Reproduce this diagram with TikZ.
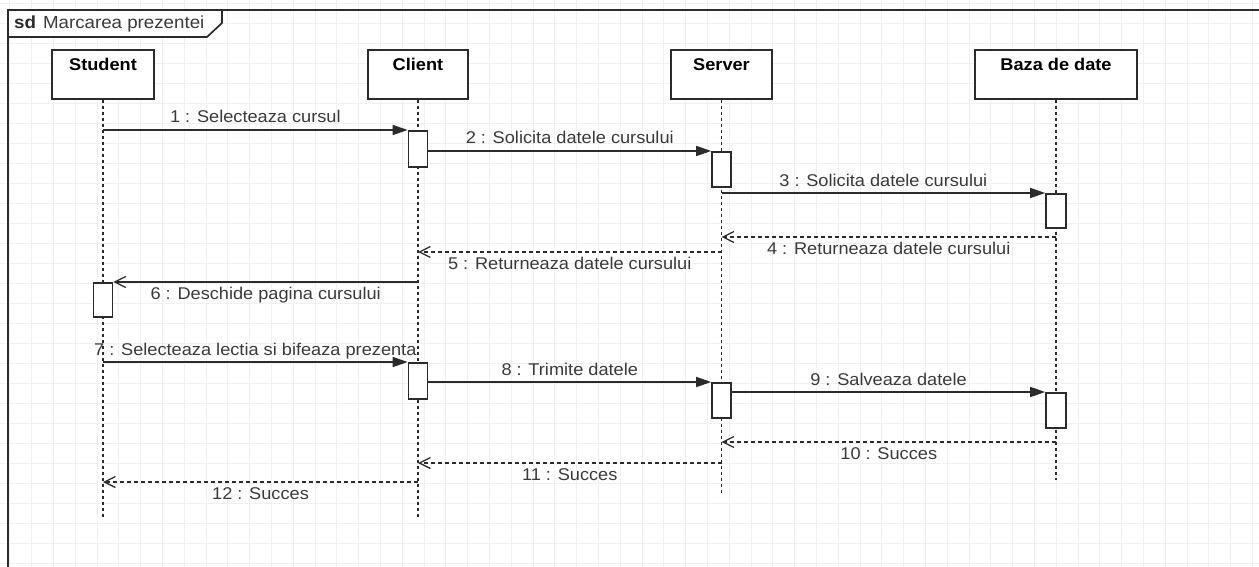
\documentclass[tikz,border=0pt]{standalone}
\usepackage{fontspec}
\setmainfont{Liberation Sans}[FakeStretch=1.07]
\usetikzlibrary{arrows.meta}
\definecolor{gridc}{HTML}{F0F0F0}
\definecolor{ink}{HTML}{2B2B2B}
\definecolor{txt}{HTML}{3A3A3A}
\tikzset{
  gridline/.style={draw=gridc, line width=0.9pt},
  frameline/.style={draw=ink, line width=1.7pt},
  actor/.style={draw=ink, line width=1.8pt, fill=white, minimum height=49pt, inner sep=0pt},
  actorname/.style={anchor=north, inner sep=0pt, font=\fontsize{17}{19}\selectfont\bfseries, text=black, yshift=-9pt},
  lifeline/.style={draw=ink, line width=1.6pt, dash pattern=on 3pt off 3pt},
  activation/.style={draw=ink, line width=1.6pt, fill=white, minimum width=19pt, inner sep=0pt, anchor=north},
  sync/.style={draw=ink, line width=1.4pt, -{Triangle[length=15pt,width=10pt]}},
  reply/.style={draw=ink, line width=1.4pt, dash pattern=on 4pt off 3pt, -{Straight Barb[length=11pt,width=11pt,line width=1.3pt]}},
  callopen/.style={draw=ink, line width=1.4pt, -{Straight Barb[length=11pt,width=11pt,line width=1.3pt]}},
  msgtext/.style={inner sep=0pt, anchor=base, text=txt, font=\fontsize{17}{19}\selectfont},
  above label/.style={msgtext, yshift=7pt},
  below label/.style={msgtext, yshift=-17pt}
}
\begin{document}
\begin{tikzpicture}[x=1pt,y=-1pt]
\clip (0,0) rectangle (1259,567);
\fill[white] (0,0) rectangle (1259,567);
% grid
\foreach \i in {0,...,57} \draw[gridline] ({9.9+\i*21.8},0) -- ({9.9+\i*21.8},567);
\foreach \j in {0,...,28} \draw[gridline] (0,{3+\j*20}) -- (1259,{3+\j*20});
% frame
\draw[frameline] (8,580) -- (8,10) -- (1270,10);
\draw[frameline, fill=white] (8,10) -- (222,10) -- (222,23) -- (207,37) -- (8,37) -- cycle;
\node[anchor=base west, inner sep=0pt, font=\fontsize{17.5}{19}\selectfont, text=ink] (title) at (14,29)
  {\textbf{sd}\hspace{7pt}{\color{txt}Marcarea prezentei}};
% actors
\node[actor, minimum width=102pt] (student) at (103,74.5) {};
\node[actor, minimum width=100pt] (client) at (418,74.5) {};
\node[actor, minimum width=101pt] (server) at (721.5,74.5) {};
\node[actor, minimum width=162pt] (db) at (1056,74.5) {};
\node[actorname] at (student.north) {Student};
\node[actorname] at (client.north) {Client};
\node[actorname] at (server.north) {Server};
\node[actorname] at (db.north) {Baza de date};
% lifeline ends
\coordinate (studentEnd) at (103,518);
\coordinate (clientEnd) at (418,518);
\coordinate (serverEnd) at (721.5,495);
\coordinate (dbEnd) at (1056,480);
\draw[lifeline] (student.south) -- (studentEnd);
\draw[lifeline] (client.south) -- (clientEnd);
\draw[lifeline] (server.south) -- (serverEnd);
\draw[lifeline] (db.south) -- (dbEnd);
% activations
\node[activation, minimum height=36pt] (c1) at (418,130) {};
\node[activation, minimum height=35pt] (s1) at (721.5,151) {};
\node[activation, minimum height=34pt, minimum width=20pt] (d1) at (1056,193) {};
\node[activation, minimum height=34pt] (st1) at (103,282) {};
\node[activation, minimum height=36pt] (c2) at (418,362) {};
\node[activation, minimum height=35pt] (s2) at (721.5,382) {};
\node[activation, minimum height=35pt, minimum width=20pt] (d2) at (1056,392) {};
% messages
\draw[sync] (student.south |- c1.north west) -- node[above label] {1 : Selecteaza cursul} (c1.north west);
\draw[sync] (c1.east |- s1.north west) -- node[above label] {2 : Solicita datele cursului} (s1.north west);
\draw[sync] (server.south |- d1.north west) -- node[above label] {3 : Solicita datele cursului} (d1.north west);
\coordinate (m4) at (1056,237);
\draw[reply] (m4) -- node[below label] {4 : Returneaza datele cursului} (server.south |- m4);
\coordinate (m5) at (721.5,252);
\draw[reply] (m5) -- node[below label] {5 : Returneaza datele cursului} (client.south |- m5);
\draw[callopen] (client.south |- st1.north east) -- node[below label] {6 : Deschide pagina cursului} (st1.north east);
\draw[sync] (student.south |- c2.north west) -- node[above label] {7 : Selecteaza lectia si bifeaza prezenta} (c2.north west);
\draw[sync] (c2.east |- s2.north west) -- node[above label] {8 : Trimite datele} (s2.north west);
\draw[sync] (s2.east |- d2.north west) -- node[above label] {9 : Salveaza datele} (d2.north west);
\coordinate (m10) at (1056,442);
\draw[reply] (m10) -- node[below label] {10 : Succes} (server.south |- m10);
\coordinate (m11) at (721.5,463);
\draw[reply] (m11) -- node[below label] {11 : Succes} (client.south |- m11);
\coordinate (m12) at (418,482);
\draw[reply] (m12) -- node[below label] {12 : Succes} (student.south |- m12);
\end{tikzpicture}
\end{document}
